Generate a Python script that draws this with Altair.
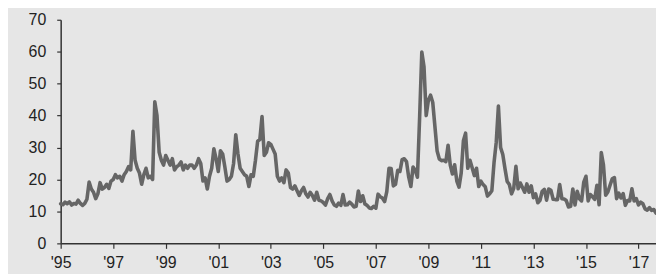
import altair as alt
import pandas as pd

# Monthly VIX month-end values, Jan 1995 .. Sep 2017
v1995 = [12.4, 12.1, 12.9, 12.4, 13.0, 12.0, 12.5, 12.3, 13.5, 12.5, 11.9, 12.5]
v1996 = [13.8, 19.2, 17.0, 16.0, 14.0, 15.5, 19.0, 17.0, 17.5, 18.5, 17.2, 19.5]
v1997 = [20.0, 21.5, 20.5, 21.0, 19.5, 21.5, 22.5, 24.0, 23.0, 35.1, 26.0, 23.5]
v1998 = [22.0, 18.5, 21.5, 23.5, 20.5, 21.0, 20.0, 44.3, 40.0, 28.5, 26.0, 24.5]
v1999 = [27.5, 26.0, 24.5, 26.5, 23.0, 24.0, 24.5, 25.5, 23.0, 24.5, 23.5, 24.5]
v2000 = [24.5, 23.5, 24.5, 26.5, 25.0, 19.5, 20.5, 17.0, 21.0, 23.5, 29.6, 26.5]
v2001 = [22.5, 29.0, 28.0, 24.0, 19.5, 20.0, 21.0, 25.0, 34.0, 28.0, 23.5, 22.5]
v2002 = [21.5, 21.0, 17.8, 21.5, 21.0, 26.0, 32.0, 32.5, 39.7, 27.5, 28.5, 31.5]
v2003 = [31.0, 29.5, 28.0, 21.0, 19.5, 20.5, 19.0, 23.0, 22.0, 17.5, 17.0, 18.0]
v2004 = [16.5, 15.0, 16.5, 17.5, 15.5, 14.5, 16.0, 15.0, 13.5, 16.0, 13.5, 13.3]
v2005 = [12.8, 12.0, 14.0, 15.3, 13.3, 12.0, 11.6, 12.6, 11.9, 15.3, 12.0, 12.1]
v2006 = [12.9, 12.3, 11.4, 11.6, 16.4, 13.1, 14.9, 12.3, 11.9, 11.1, 10.9, 11.6]
v2007 = [11.0, 15.4, 14.6, 14.2, 13.1, 16.2, 23.5, 23.4, 18.0, 18.5, 22.9, 22.5]
v2008 = [26.2, 26.5, 25.6, 20.8, 17.8, 23.9, 22.9, 20.7, 39.4, 59.9, 55.3, 40.0]
v2009 = [44.8, 46.4, 44.1, 36.5, 28.9, 26.4, 25.9, 26.0, 25.6, 30.7, 24.5, 21.7]
v2010 = [24.6, 19.5, 17.6, 22.0, 32.1, 34.5, 23.5, 26.0, 23.7, 21.2, 23.5, 17.8]
v2011 = [19.5, 18.4, 17.7, 14.8, 15.5, 16.5, 25.3, 31.6, 43.0, 30.0, 27.8, 23.4]
v2012 = [19.4, 18.4, 15.5, 17.2, 24.1, 17.1, 18.9, 17.5, 16.0, 18.6, 16.0, 18.0]
v2013 = [14.3, 15.5, 12.7, 13.5, 16.3, 16.9, 13.5, 17.0, 16.6, 13.8, 13.7, 13.7]
v2014 = [18.4, 14.0, 13.9, 13.4, 11.4, 11.6, 17.0, 12.0, 16.3, 14.0, 13.3, 19.2]
v2015 = [21.0, 13.3, 15.3, 14.6, 13.8, 18.2, 12.1, 28.4, 24.5, 15.1, 16.1, 18.2]
v2016 = [20.2, 20.6, 14.0, 15.7, 14.2, 15.6, 11.9, 13.4, 13.3, 17.1, 13.3, 14.0]
v2017 = [12.0, 12.9, 12.4, 10.8, 10.4, 11.2, 10.3, 10.6, 9.5]

years = [v1995, v1996, v1997, v1998, v1999, v2000, v2001, v2002, v2003, v2004,
         v2005, v2006, v2007, v2008, v2009, v2010, v2011, v2012, v2013, v2014,
         v2015, v2016, v2017]

x_ticks = [1995, 1997, 1999, 2001, 2003, 2005, 2007, 2009, 2011, 2013, 2015, 2017]
y_ticks = [0, 10, 20, 30, 40, 50, 60, 70]

rows = []
for i, vals in enumerate(years):
    for m, v in enumerate(vals):
        rows.append({"t": 1995 + i + m / 12.0, "v": v})
df = pd.DataFrame(rows)

font = "Liberation Sans"

chart = alt.Chart(df).mark_line(
    color="#666666", strokeWidth=3.6, strokeJoin="round", strokeCap="round"
).encode(
    x=alt.X("t:Q", title=None,
            scale=alt.Scale(domain=[1995, 2017 + 8 / 12.0], nice=False, zero=False),
            axis=alt.Axis(values=x_ticks, grid=False, tickSize=5, labelPadding=6,
                          labelExpr="\"'\" + substring(toString(datum.value), 2, 4)",
                          labelFlush=False)),
    y=alt.Y("v:Q", title=None,
            scale=alt.Scale(domain=[0, 70], nice=False),
            axis=alt.Axis(values=y_ticks, grid=False, tickSize=4, labelPadding=11)),
).properties(
    width=599, height=225,
    autosize=alt.AutoSizeParams(type="none"),
    padding={"left": 53, "top": 11, "right": 0, "bottom": 30},
    background="#e6e6e6",
).configure_view(
    stroke=None
).configure_axis(
    domainColor="#333333", domainWidth=1.5, tickColor="#333333", tickWidth=1.2,
    labelFont=font, labelFontSize=16, labelColor="#222222",
)

chart.save("out.html", embed_options={"renderer": "svg", "actions": False})
